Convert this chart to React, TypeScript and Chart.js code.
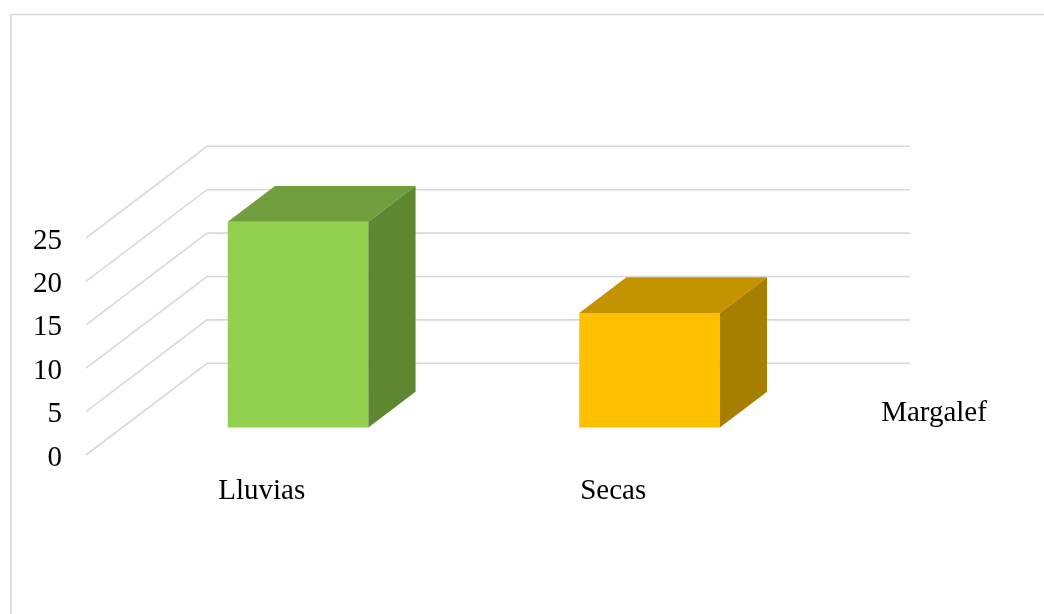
import { useEffect, useRef } from 'react';
import { Chart, registerables } from 'chart.js';

Chart.register(...registerables);

// ---- data ----
const categories: string[] = ['Lluvias', 'Secas'];
const seriesName = 'Margalef';
const values: number[] = [23.7, 13.2];
const yTickValues: number[] = [0, 5, 10, 15, 20, 25];

// ---- styles ----
const frontColors = ['#92D050', '#FFC000'];
const topColors = ['#719F3D', '#C49400'];
const sideColors = ['#5F8631', '#A67E00'];
const gridColor = '#D9D9D9';
const FONT = '"Liberation Serif", "Times New Roman", serif';

// 3D oblique projection (depth offset of back wall relative to front plane)
const DEPTH_X = 121;
const DEPTH_Y = -91.7;
const BAR_FRONT = 0.3;
const BAR_BACK = 0.69;

const threeDPlugin = {
  id: 'threeD',
  beforeDraw(chart: any) {
    const { ctx, chartArea } = chart;
    const { left, right } = chartArea;
    const yScale = chart.scales.y;
    ctx.save();
    // chart border (continues past the visible crop on right/bottom)
    ctx.strokeStyle = gridColor;
    ctx.lineWidth = 1.5;
    ctx.strokeRect(11, 14.5, chart.width + 40, chart.height + 40);
    // side wall + back wall gridlines
    ctx.lineWidth = 1.6;
    yScale.ticks.forEach((t: any) => {
      const py = yScale.getPixelForValue(t.value);
      ctx.beginPath();
      ctx.moveTo(left, py);
      ctx.lineTo(left + DEPTH_X, py + DEPTH_Y);
      ctx.lineTo(right + DEPTH_X, py + DEPTH_Y);
      ctx.stroke();
    });
    ctx.restore();
  },
  beforeDatasetsDraw(chart: any) {
    const { ctx } = chart;
    const meta = chart.getDatasetMeta(0);
    const fx = BAR_FRONT * DEPTH_X;
    const fy = BAR_FRONT * DEPTH_Y;
    const bx = BAR_BACK * DEPTH_X;
    const by = BAR_BACK * DEPTH_Y;
    ctx.save();
    meta.data.forEach((bar: any, i: number) => {
      const { x, y, base, width } = bar.getProps(['x', 'y', 'base', 'width'], true);
      const l = x - width / 2;
      const r = x + width / 2;
      // front face
      ctx.fillStyle = frontColors[i];
      ctx.fillRect(l + fx, y + fy, width, base - y);
      // top face
      ctx.fillStyle = topColors[i];
      ctx.beginPath();
      ctx.moveTo(l + fx, y + fy);
      ctx.lineTo(r + fx, y + fy);
      ctx.lineTo(r + bx, y + by);
      ctx.lineTo(l + bx, y + by);
      ctx.closePath();
      ctx.fill();
      // side face
      ctx.fillStyle = sideColors[i];
      ctx.beginPath();
      ctx.moveTo(r + fx, y + fy);
      ctx.lineTo(r + bx, y + by);
      ctx.lineTo(r + bx, base + by);
      ctx.lineTo(r + fx, base + fy);
      ctx.closePath();
      ctx.fill();
    });
    ctx.restore();
    return false;
  },
  afterDraw(chart: any) {
    const { ctx, chartArea } = chart;
    ctx.save();
    ctx.font = `29px ${FONT}`;
    ctx.fillStyle = '#000000';
    ctx.textAlign = 'center';
    ctx.textBaseline = 'alphabetic';
    ctx.fillText(chart.data.datasets[0].label, chartArea.right + 145, chartArea.bottom - 34);
    ctx.restore();
  },
};

export default function App() {
  const canvasRef = useRef<HTMLCanvasElement | null>(null);

  useEffect(() => {
    document.body.style.margin = '0';
    const canvas = canvasRef.current;
    if (!canvas) return;
    const chart = new Chart(canvas, {
      type: 'bar',
      data: {
        labels: categories,
        datasets: [
          {
            label: seriesName,
            data: values,
            backgroundColor: frontColors,
            barPercentage: 0.4,
            categoryPercentage: 1.0,
          },
        ],
      },
      options: {
        responsive: false,
        animation: false,
        devicePixelRatio: 1,
        layout: { padding: { left: 0, right: 255, top: 238, bottom: 0 } },
        plugins: {
          legend: { display: false },
          tooltip: { enabled: false },
        },
        scales: {
          x: {
            grid: { display: false, drawTicks: false },
            border: { display: false },
            ticks: {
              font: { family: FONT, size: 29 },
              color: '#000000',
              padding: 19,
              maxRotation: 0,
              autoSkip: false,
            },
            afterFit: (s: any) => {
              s.height = 159;
            },
          },
          y: {
            min: 0,
            max: 25,
            afterBuildTicks: (s: any) => {
              s.ticks = yTickValues.map((v) => ({ value: v }));
            },
            grid: { display: false, drawTicks: false },
            border: { display: false },
            ticks: {
              font: { family: FONT, size: 29 },
              color: '#000000',
              padding: 24,
              labelOffset: 3,
            },
            afterFit: (s: any) => {
              s.width = 86;
            },
          },
        },
      },
      plugins: [threeDPlugin],
    });
    return () => chart.destroy();
  }, []);

  return (
    <div style={{ width: 1044, height: 614, background: '#ffffff' }}>
      <canvas ref={canvasRef} width={1044} height={614} style={{ display: 'block' }} />
    </div>
  );
}
